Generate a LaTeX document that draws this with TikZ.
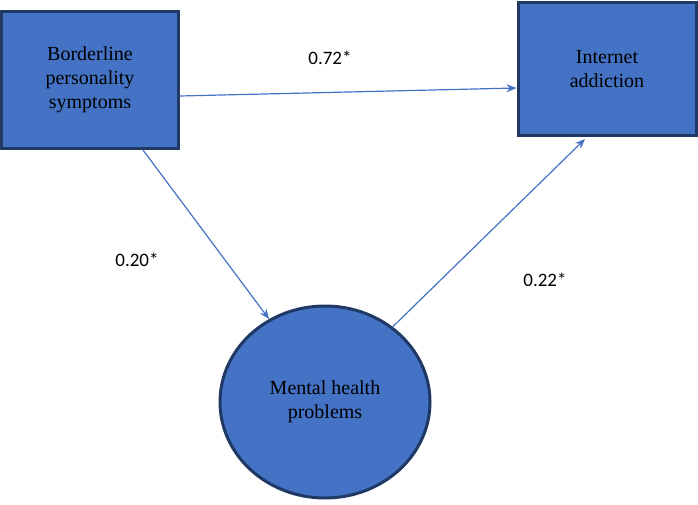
\documentclass[tikz,border=0pt]{standalone}
\usepackage{fontspec}
\setmainfont{Liberation Serif}
\newfontfamily\lab{Carlito}
\usetikzlibrary{shapes.geometric,arrows.meta}
\definecolor{fillb}{HTML}{4472C4}
\definecolor{edgeb}{HTML}{1F3864}
\tikzset{
 boxn/.style={draw=edgeb,line width=3pt,fill=fillb,align=center,font=\fontsize{20}{24}\selectfont},
 conn/.style={draw=fillb,line width=1.2pt,-{Stealth[length=10pt,width=8pt]}},
 lbl/.style={font=\lab\fontsize{19}{22}\selectfont}
}
\begin{document}
\begin{tikzpicture}[x=1pt,y=-1pt]
\useasboundingbox (0,0) rectangle (698,505);
\node[boxn,minimum width=177pt,minimum height=137pt] (bp) at (90,80) {Borderline\\personality\\symptoms};
\node[boxn,minimum width=178pt,minimum height=133pt] (ia) at (607,69) {Internet\\addiction};
\node[boxn,ellipse,minimum width=210pt,minimum height=192pt] (mh) at (325,402) {Mental health\\problems};
\draw[conn] (180,96) -- (ia.west |- 0,88);
\draw[conn] (143,150) -- (mh.124);
\draw[conn] (mh.48) -- (585,139);
\node[lbl] (l1) at (330,58) {0.72*};
\node[lbl] (l2) at (137,260) {0.20*};
\node[lbl] (l3) at (545,280) {0.22*};
\end{tikzpicture}
\end{document}
